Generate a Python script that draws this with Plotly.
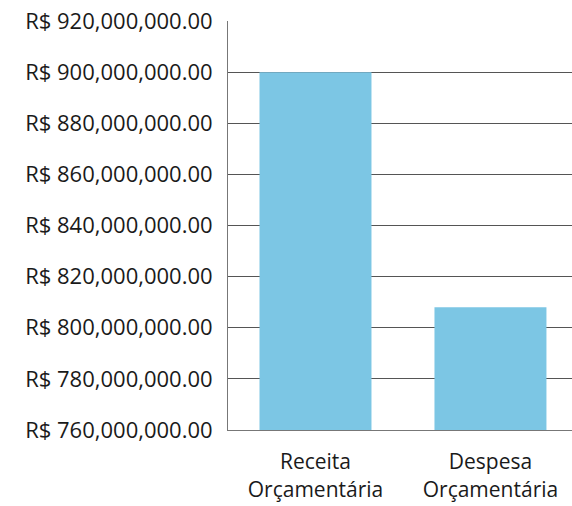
import plotly.graph_objects as go

categories = ["Receita<br>Orçamentária", "Despesa<br>Orçamentária"]
values = [900000000, 808000000]
tick_vals = [760000000, 780000000, 800000000, 820000000, 840000000,
             860000000, 880000000, 900000000, 920000000]
tick_text = ["R$ {:,.2f}".format(v) for v in tick_vals]

fig = go.Figure(go.Bar(x=categories, y=values, marker_color="#7CC6E4",
                       marker_line_width=0))

font_family = "Open Sans"
fig.update_layout(
    width=572, height=506,
    margin=dict(l=228, r=0, t=21, b=76),
    paper_bgcolor="white", plot_bgcolor="white",
    bargap=0.36,
    showlegend=False,
    font=dict(family=font_family, size=21, color="#1a1a1a"),
)
fig.update_yaxes(
    range=[760000000, 920000000],
    tickvals=tick_vals, ticktext=tick_text,
    tickfont=dict(size=22),
    showgrid=True, gridcolor="#555555", gridwidth=1,
    showline=True, linecolor="#777777", linewidth=1,
    ticks="", ticklabelstandoff=10, automargin=False,
    zeroline=False,
)
fig.update_xaxes(
    range=[-0.5, 1.466],
    showline=True, linecolor="#777777", linewidth=1,
    showgrid=False, ticks="",
    tickfont=dict(size=21), ticklabelstandoff=13, automargin=False,
)
fig.write_html("out.html")
